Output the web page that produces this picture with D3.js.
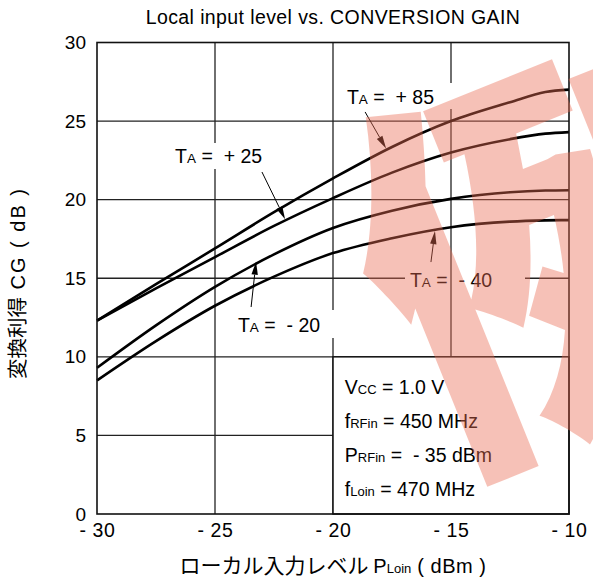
<!DOCTYPE html>
<html><head><meta charset="utf-8">
<script src="https://cdn.jsdelivr.net/npm/d3@7/dist/d3.min.js"></script>
<style>
html,body{margin:0;padding:0;background:#fff;}
svg{display:block;font-family:"Liberation Sans",Arial,sans-serif;}
text{white-space:pre;}
</style></head>
<body><svg id="c" width="593" height="583"></svg>
<script>
// ---- data ----
const pLoin = [-30, -27.5, -25, -22.5, -20, -17.5, -15, -12.5, -11, -10];
const cgTa85  = [12.3, 14.62, 16.9, 19.2, 21.35, 23.35, 25.0, 26.2, 26.85, 27.0];
const cgTa25  = [12.3, 14.36, 16.35, 18.33, 20.1, 21.72, 23.0, 23.85, 24.2, 24.3];
const cgTaM20 = [9.3, 12.0, 14.45, 16.52, 18.2, 19.3, 20.05, 20.47, 20.58, 20.6];
const cgTaM40 = [8.5, 11.0, 13.25, 15.1, 16.6, 17.55, 18.25, 18.6, 18.68, 18.7];
const xTicks = [-30, -25, -20, -15, -10];
const yTicks = [0, 5, 10, 15, 20, 25, 30];
const xTickLabels = ["- 30", "- 25", "- 20", "- 15", "- 10"];
const seriesNames = ["+ 85", "+ 25", "- 20", "- 40"];
const conditions = [
  ["V", "CC", " = 1.0 V"],
  ["f", "RFin", " = 450 MHz"],
  ["P", "RFin", " =  - 35 dBm"],
  ["f", "Loin", " = 470 MHz"]
];
const titleText = "Local input level vs. CONVERSION GAIN";

// ---- layout ----
const svg = d3.select("#c");
const L = 97, R = 569, T = 42.5, B = 514;
const x = d3.scaleLinear().domain([-30, -10]).range([L, R]);
const y = d3.scaleLinear().domain([0, 30]).range([B, T]);
const FONT = "Liberation Sans, Arial, sans-serif";

const g = svg.append("g");
// horizontal grid
g.selectAll("line.h").data(yTicks.filter(v => v > 0 && v < 30)).join("line")
  .attr("x1", L).attr("x2", R).attr("y1", d => y(d)).attr("y2", d => y(d))
  .attr("stroke", "#222").attr("stroke-width", 1.3);
// mask for -40 label (horizontal line only)
g.append("rect").attr("x", 405).attr("y", y(15) - 3).attr("width", 120).attr("height", 6).attr("fill", "#fff");
// vertical grid
g.selectAll("line.v").data(xTicks.filter(v => v > -30 && v < -10)).join("line")
  .attr("y1", T).attr("y2", B).attr("x1", d => x(d)).attr("x2", d => x(d))
  .attr("stroke", "#222").attr("stroke-width", 1.3);

// label masks
const masks = [[340, 83, 116, 26], [170, 143, 96, 26], [232, 310, 104, 28]];
g.selectAll("rect.m").data(masks).join("rect")
  .attr("x", d => d[0]).attr("y", d => d[1]).attr("width", d => d[2]).attr("height", d => d[3]).attr("fill", "#fff");

// inset box
g.append("rect").attr("x", x(-20)).attr("y", y(10)).attr("width", x(-10) - x(-20)).attr("height", y(0) - y(10))
  .attr("fill", "#fff").attr("stroke", "#111").attr("stroke-width", 1.5);

// curves
const line = d3.line().x((d, i) => x(pLoin[i])).y(d => y(d)).curve(d3.curveMonotoneX);
[cgTa85, cgTa25, cgTaM20, cgTaM40].forEach(s => {
  g.append("path").attr("d", line(s)).attr("fill", "none").attr("stroke", "#000").attr("stroke-width", 2.6);
});

// frame
g.append("rect").attr("x", L).attr("y", T).attr("width", R - L).attr("height", B - T)
  .attr("fill", "none").attr("stroke", "#111").attr("stroke-width", 1.6);

// axes labels
const yAxis = d3.axisLeft(y).tickValues(yTicks).tickSize(0).tickPadding(11);
const ya = svg.append("g").attr("transform", `translate(${L},0)`).call(yAxis);
ya.select(".domain").remove();
ya.selectAll("text").attr("font-size", 19).attr("font-family", FONT).attr("fill", "#000");

const xAxis = d3.axisBottom(x).tickValues(xTicks).tickFormat((d, i) => xTickLabels[i]).tickSize(0).tickPadding(9);
const xa = svg.append("g").attr("transform", `translate(0,${B})`).call(xAxis);
xa.select(".domain").remove();
xa.selectAll("text").attr("font-size", 19.5).attr("letter-spacing", 0.6).attr("font-family", FONT).attr("fill", "#000");

// title
svg.append("text").attr("x", x(-20)).attr("y", 24).attr("text-anchor", "middle")
  .attr("font-size", 19.5).attr("letter-spacing", 0.4).text(titleText);

// x-axis title
const xt = svg.append("text").attr("x", x(-20)).attr("y", 573).attr("text-anchor", "middle").attr("font-size", 20);
xt.append("tspan").attr("font-family", "Noto Sans CJK JP").attr("font-size", 21).text("ローカル入力レベル ");
xt.append("tspan").text("P");
xt.append("tspan").attr("font-size", 13).text("Loin");
xt.append("tspan").attr("letter-spacing", 0.5).text(" ( dBm )");

// y-axis title
const yt = svg.append("text").attr("transform", `translate(25,283) rotate(-90)`).attr("text-anchor", "middle").attr("font-size", 20);
yt.append("tspan").attr("font-family", "Noto Sans CJK JP").attr("font-size", 20.5).text("変換利得");
yt.append("tspan").attr("letter-spacing", 2).text(" CG ( dB )");

// annotations: [name, textX, textY, arrowFromX, arrowFromY, arrowToX, arrowToY] in data units
const annos = [
  [seriesNames[0], -19.41, 26.09, -18.64, 25.58, -17.75, 23.25],
  [seriesNames[1], -26.69, 22.33, -23.01, 21.76, -22.03, 18.75],
  [seriesNames[2], -24.03, 11.58, -23.47, 13.17, -23.26, 16.05],
  [seriesNames[3], -16.74, 14.44, -15.85, 16.03, -15.68, 18.0]
];
annos.forEach(a => {
  const t = svg.append("text").attr("x", x(a[1])).attr("y", y(a[2])).attr("font-size", 19.5);
  t.append("tspan").text("T");
  t.append("tspan").attr("font-size", 13.5).text("A");
  t.append("tspan").text(" =  " + a[0]);
  const x1 = x(a[3]), y1 = y(a[4]), x2 = x(a[5]), y2 = y(a[6]);
  const ang = Math.atan2(y2 - y1, x2 - x1);
  const hl = 13, hw = 3.2;
  const bx = x2 - hl * Math.cos(ang), by = y2 - hl * Math.sin(ang);
  svg.append("line").attr("x1", x1).attr("y1", y1).attr("x2", bx).attr("y2", by).attr("stroke", "#000").attr("stroke-width", 1);
  const px = -Math.sin(ang) * hw, py = Math.cos(ang) * hw;
  svg.append("path").attr("d", `M${x2},${y2}L${bx + px},${by + py}L${bx - px},${by - py}Z`).attr("fill", "#000");
});

// conditions text
conditions.forEach((c, i) => {
  const t = svg.append("text").attr("x", x(-19.5)).attr("y", y(7.7) + 1 + i * 34).attr("font-size", 19.5);
  t.append("tspan").text(c[0]);
  t.append("tspan").attr("font-size", 13).text(c[1]);
  t.append("tspan").text(c[2]);
});

// watermark
svg.append("text").attr("transform", "translate(436,466) rotate(-22)")
  .attr("font-family", "Noto Sans CJK SC").attr("font-weight", 900).attr("font-size", 410)
  .attr("fill", "rgb(236,110,85)").attr("opacity", 0.42).text("例");
</script></body></html>
